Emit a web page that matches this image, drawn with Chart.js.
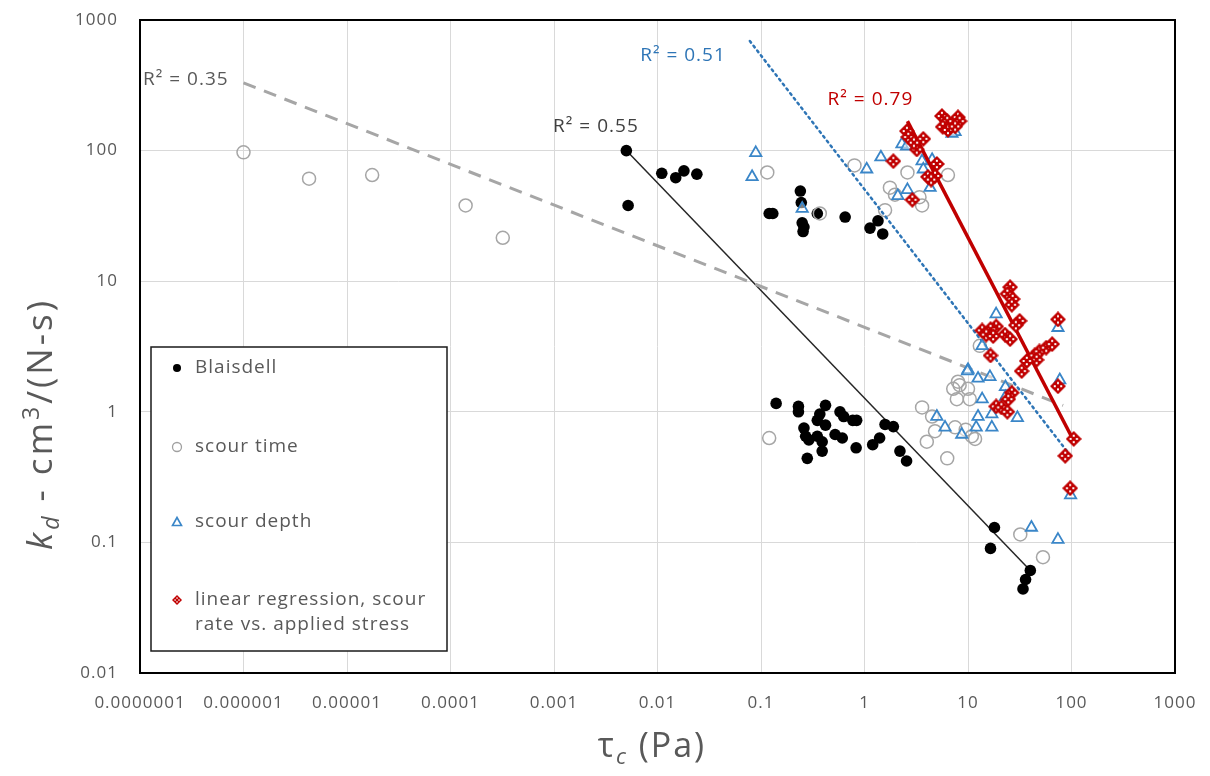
<!DOCTYPE html>
<html>
<head>
<meta charset="utf-8">
<script src="https://cdn.jsdelivr.net/npm/chart.js@4.4.1/dist/chart.umd.min.js"></script>
<style>
  body { margin: 0; background: #fff; }
  #wrap { width: 1210px; height: 776px; }
</style>
</head>
<body>
<div id="wrap"><canvas id="myChart" width="1210" height="776"></canvas></div>
<script>
// axis ticks
const xTicks = [1e-7, 1e-6, 1e-5, 1e-4, 1e-3, 0.01, 0.1, 1, 10, 100, 1000];
const xTickLabels = ['0.0000001', '0.000001', '0.00001', '0.0001', '0.001', '0.01', '0.1', '1', '10', '100', '1000'];
const yTicks = [0.01, 0.1, 1, 10, 100, 1000];
const yTickLabels = ['0.01', '0.1', '1', '10', '100', '1000'];

// Blaisdell
const blaisdellX = [0.005, 0.0052, 0.011, 0.015, 0.018, 0.024, 0.12, 0.13, 0.24, 0.245, 0.25, 0.26, 0.255, 0.35, 0.65, 1.13, 1.35, 1.5,
  0.14, 0.23, 0.23, 0.42, 0.37, 0.35, 0.42, 0.58, 0.63, 0.77, 0.84, 0.26, 0.27, 0.29, 0.35, 0.39, 0.52, 0.61, 0.39, 0.28, 0.83, 1.2, 1.58, 1.9, 1.4, 2.2, 2.55,
  18, 16.5, 40, 36, 34];
const blaisdellY = [100, 38, 67, 62, 70, 66, 33, 33, 49, 40, 28, 26, 24, 33, 31, 25.5, 29, 23,
  1.16, 1.1, 1.0, 1.12, 0.96, 0.86, 0.79, 1.0, 0.92, 0.86, 0.86, 0.75, 0.65, 0.61, 0.65, 0.59, 0.67, 0.63, 0.5, 0.44, 0.53, 0.56, 0.8, 0.77, 0.63, 0.5, 0.42,
  0.13, 0.09, 0.061, 0.052, 0.044];

// scour time
const scourTimeX = [1e-6, 4.3e-6, 1.75e-5, 1.4e-4, 3.2e-4, 0.115, 0.12, 0.37, 0.8, 2.6, 1.76, 1.97, 3.4, 3.6, 6.4, 1.58,
  3.6, 4.0, 4.8, 4.5, 6.3, 7.2, 7.8, 8.3, 7.5, 10.4, 10.9, 11.7, 10, 13, 9.5, 8.0, 32, 53];
const scourTimeY = [97, 61, 65, 38, 21.5, 68, 0.63, 33, 77, 68, 52, 46, 44, 38, 65, 35,
  1.08, 0.59, 0.71, 0.92, 0.44, 1.5, 1.25, 1.6, 0.76, 1.25, 0.65, 0.62, 1.5, 3.2, 0.73, 1.7, 0.115, 0.077];

// scour depth
const scourDepthX = [0.089, 0.082, 0.25, 1.05, 1.44, 2.3, 2.55, 3.6, 3.7, 4.3, 2.1, 2.6, 7.5, 7.0, 4.5,
  18.7, 13.7, 10, 12.5, 16.3, 23, 23, 13.7, 17, 12.5, 5.0, 6.0, 8.7, 12, 17, 30, 41, 74, 98, 77, 74, 9.9];
const scourDepthY = [96, 63, 36, 72, 89, 112, 108, 83, 72, 52, 45, 50, 139, 135, 85,
  5.6, 3.2, 2.1, 1.8, 1.85, 1.55, 1.3, 1.25, 0.96, 0.92, 0.92, 0.76, 0.67, 0.76, 0.76, 0.9, 0.13, 0.105, 0.23, 1.75, 4.4, 2.05];

// linear regression, scour rate vs. applied stress
const linRegX = [5.6, 6.3, 8.0, 8.3, 5.7, 6.4, 7.5, 2.57, 2.65, 3.7, 3.2, 5.0, 4.1, 4.8, 1.9, 2.9, 3.0, 4.4,
  25.5, 24, 27, 26.5, 31.5, 29, 74, 18.7, 16.5, 13.7, 15, 17.5, 22.8, 25.5, 44, 49, 57, 65, 46, 37, 33, 16.5, 74, 26.5, 24.5, 18.7, 21, 24, 105, 87, 97];
const linRegY = [184, 168, 180, 168, 152, 144, 153, 141, 127, 123, 102, 79, 63, 64, 83, 42, 115, 60,
  9.0, 8.0, 7.3, 6.6, 4.97, 4.6, 5.1, 4.5, 4.3, 4.2, 3.9, 3.8, 3.9, 3.6, 2.7, 2.9, 3.1, 3.3, 2.5, 2.45, 2.05, 2.7, 1.57, 1.4, 1.25, 1.1, 1.08, 1.0, 0.62, 0.46, 0.26];

// power trendlines (end points)
const blaisdellFitX = [0.005, 40];
const blaisdellFitY = [100, 0.061];
const scourTimeFitX = [1e-6, 83];
const scourTimeFitY = [330, 1.12];
const scourDepthFitX = [0.078, 100];
const scourDepthFitY = [690, 0.45];
const linRegFitX = [2.6, 105];
const linRegFitY = [168, 0.6];

// R² labels
const r2Text = ['R² = 0.35', 'R² = 0.55', 'R² = 0.51', 'R² = 0.79'];
const r2X = [1.07e-7, 0.00098, 0.0068, 0.44];
const r2Y = [350, 154, 530, 244];
const r2Colors = ['#595959', '#404040', '#2e75b6', '#c00000'];

const legendLabels = ['Blaisdell', 'scour time', 'scour depth', ['linear regression, scour', 'rate vs. applied stress']];

const FONT = "'Open Sans', 'Noto Sans', sans-serif";
const pts = (xs, ys) => xs.map((x, i) => ({ x: x, y: ys[i] }));

const diamondMarker = size => {
  const c = document.createElement('canvas');
  c.width = size; c.height = size;
  const g = c.getContext('2d');
  const h = size / 2;
  g.fillStyle = '#c00000';
  g.beginPath();
  g.moveTo(h, 0); g.lineTo(size, h); g.lineTo(h, size); g.lineTo(0, h);
  g.closePath(); g.fill();
  g.fillStyle = '#ffffff';
  const d = size * 0.2;
  [[h, h - d], [h - d, h], [h + d, h], [h, h + d]].forEach(p => g.fillRect(p[0] - 1, p[1] - 1, 2, 2));
  return c;
};
const redMarker = diamondMarker(16);

const drawRuns = (ctx, runs, cx, cy) => {
  let total = 0;
  runs.forEach(r => { ctx.font = r.font; r.w = ctx.measureText(r.text).width; total += r.w; });
  let xx = cx - total / 2;
  runs.forEach(r => { ctx.font = r.font; ctx.fillText(r.text, xx, cy + (r.dy || 0)); xx += r.w; });
};

const extras = {
  id: 'extras',
  beforeDraw(chart) {
    chart.ctx.letterSpacing = '1px';
  },
  afterDraw(chart) {
    const ctx = chart.ctx;
    const a = chart.chartArea;
    const sx = chart.scales.x, sy = chart.scales.y;
    ctx.save();
    ctx.letterSpacing = '1px';

    // plot frame
    ctx.strokeStyle = '#000';
    ctx.lineWidth = 2;
    ctx.strokeRect(a.left, a.top, a.right - a.left, a.bottom - a.top);

    // R² labels
    ctx.font = '19px ' + FONT;
    ctx.textBaseline = 'middle';
    ctx.textAlign = 'left';
    r2Text.forEach((t, i) => {
      ctx.fillStyle = r2Colors[i];
      ctx.fillText(t, sx.getPixelForValue(r2X[i]), sy.getPixelForValue(r2Y[i]));
    });

    // legend
    const lx = a.left + 11, ly = a.top + 327, lw = 296, lh = 304;
    ctx.fillStyle = '#fff';
    ctx.fillRect(lx, ly, lw, lh);
    ctx.strokeStyle = '#1a1a1a';
    ctx.lineWidth = 1.5;
    ctx.strokeRect(lx, ly, lw, lh);
    const rows = [ly + 21, ly + 100, ly + 175, ly + 253];
    const mx = lx + 26, tx = lx + 44;
    ctx.fillStyle = '#000';
    ctx.beginPath(); ctx.arc(mx, rows[0], 4, 0, Math.PI * 2); ctx.fill();
    ctx.strokeStyle = '#a0a0a0'; ctx.lineWidth = 1.3;
    ctx.beginPath(); ctx.arc(mx, rows[1], 4.5, 0, Math.PI * 2); ctx.stroke();
    ctx.strokeStyle = '#3a86c8'; ctx.lineWidth = 1.6;
    ctx.beginPath(); ctx.moveTo(mx, rows[2] - 4.5); ctx.lineTo(mx + 4.5, rows[2] + 3.5); ctx.lineTo(mx - 4.5, rows[2] + 3.5); ctx.closePath(); ctx.stroke();
    ctx.drawImage(redMarker, mx - 5, rows[3] - 5, 10, 10);
    ctx.fillStyle = '#595959';
    ctx.font = '19px ' + FONT;
    legendLabels.forEach((lab, i) => {
      const lines = Array.isArray(lab) ? lab : [lab];
      lines.forEach((ln, j) => ctx.fillText(ln, tx, rows[i] + j * 25));
    });

    // axis titles
    ctx.fillStyle = '#595959';
    ctx.textAlign = 'left';
    ctx.textBaseline = 'alphabetic';
    ctx.letterSpacing = '3px';
    ctx.save();
    ctx.translate(40, 424);
    ctx.rotate(-Math.PI / 2);
    drawRuns(ctx, [
      { text: 'k', font: 'italic 35px ' + FONT },
      { text: 'd', font: 'italic 23px ' + FONT, dy: 7 },
      { text: ' - cm', font: '35px ' + FONT },
      { text: '3', font: '23px ' + FONT, dy: -13 },
      { text: '/(N-s)', font: '35px ' + FONT }
    ], 0, 12);
    ctx.restore();
    ctx.letterSpacing = '2px';
    drawRuns(ctx, [
      { text: 'τ', font: '34px ' + FONT },
      { text: 'c', font: 'italic 22px ' + FONT, dy: 7 },
      { text: ' (Pa)', font: '34px ' + FONT }
    ], 652, 757);
    ctx.restore();
  }
};

const ctx = document.querySelector('#myChart');

const chart = new Chart(ctx, {
  type: 'scatter',
  data: {
    datasets: [
      { label: 'linear regression, scour rate vs. applied stress', data: pts(linRegX, linRegY), pointStyle: redMarker, order: 1 },
      { label: 'linreg fit', data: pts(linRegFitX, linRegFitY), showLine: true, pointRadius: 0, borderColor: '#c00000', borderWidth: 3.5, order: 2 },
      { label: 'scour depth', data: pts(scourDepthX, scourDepthY), pointStyle: 'triangle', pointRadius: 6.5, borderColor: '#3a86c8', borderWidth: 1.8, backgroundColor: 'rgba(255,255,255,0.5)', order: 3 },
      { label: 'depth fit', data: pts(scourDepthFitX, scourDepthFitY), showLine: true, pointRadius: 0, borderColor: '#2e75b6', borderWidth: 2.5, borderDash: [2, 4], borderCapStyle: 'round', order: 4 },
      { label: 'scour time', data: pts(scourTimeX, scourTimeY), pointStyle: 'circle', pointRadius: 6.5, borderColor: '#a6a6a6', borderWidth: 1.5, backgroundColor: 'rgba(255,255,255,0)', order: 5 },
      { label: 'time fit', data: pts(scourTimeFitX, scourTimeFitY), showLine: true, pointRadius: 0, borderColor: '#a6a6a6', borderWidth: 3, borderDash: [13, 9], order: 6 },
      { label: 'Blaisdell', data: pts(blaisdellX, blaisdellY), pointStyle: 'circle', pointRadius: 5.8, borderWidth: 0, backgroundColor: '#000', order: 7 },
      { label: 'Blaisdell fit', data: pts(blaisdellFitX, blaisdellFitY), showLine: true, pointRadius: 0, borderColor: '#262626', borderWidth: 1.5, order: 8 }
    ]
  },
  options: {
    responsive: false,
    animation: false,
    devicePixelRatio: 1,
    layout: { padding: { top: 20, right: 35, left: 0, bottom: 0 } },
    plugins: {
      legend: { display: false },
      tooltip: { enabled: false }
    },
    scales: {
      x: {
        type: 'logarithmic',
        min: 1e-7,
        max: 1000,
        afterBuildTicks: s => { s.ticks = xTicks.map(v => ({ value: v })); },
        afterFit: s => { s.height = 103; s.paddingLeft = 0; s.paddingRight = 0; },
        grid: { color: '#d9d9d9', lineWidth: 1, drawTicks: false },
        border: { display: false },
        ticks: {
          autoSkip: false, maxRotation: 0, padding: 20, color: '#595959',
          font: { family: FONT, size: 17 },
          callback: (v, i) => xTickLabels[i]
        }
      },
      y: {
        type: 'logarithmic',
        min: 0.01,
        max: 1000,
        afterBuildTicks: s => { s.ticks = yTicks.map(v => ({ value: v })); },
        afterFit: s => { s.width = 140; s.paddingTop = 0; s.paddingBottom = 0; },
        grid: { color: '#d9d9d9', lineWidth: 1, drawTicks: false },
        border: { display: false },
        ticks: {
          autoSkip: false, padding: 22, color: '#595959',
          font: { family: FONT, size: 17 },
          callback: (v, i) => yTickLabels[i]
        }
      }
    }
  },
  plugins: [extras]
});
</script>
</body>
</html>
